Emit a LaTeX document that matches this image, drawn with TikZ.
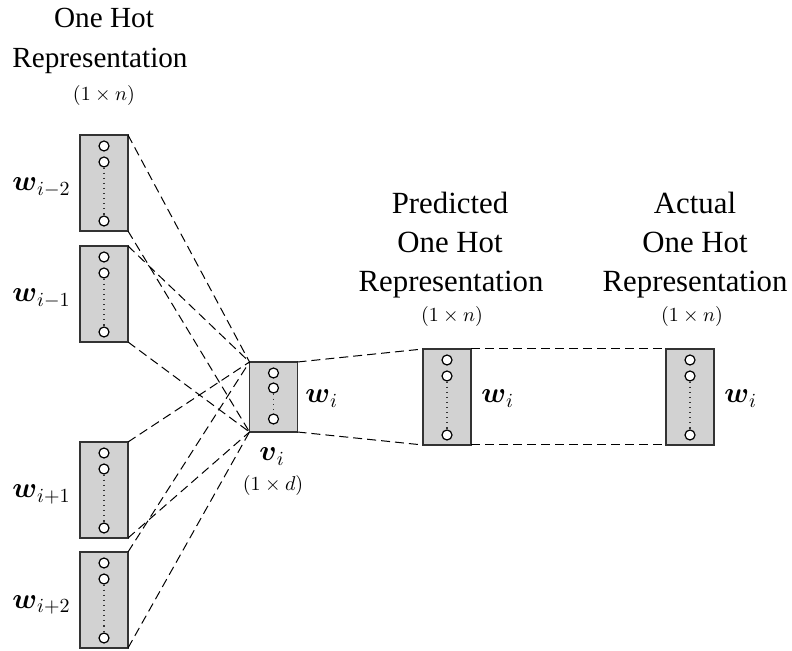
\documentclass[tikz,border=0pt]{standalone}
\usepackage{amsmath}
\usepackage[no-math]{fontspec}
\setmainfont{Liberation Serif}
\usetikzlibrary{calc}

\tikzset{
  vecbox/.style={draw=black!80, line width=0.7pt, fill=gray!35,
    minimum width=24pt, inner sep=0pt, outer sep=0pt},
  unit/.style={circle, draw=black, line width=0.6pt, fill=white,
    minimum size=5pt, inner sep=0pt},
  dots/.style={dotted, line width=0.55pt, black!80},
  conn/.style={line width=0.5pt, dash pattern=on 4.5pt off 2.5pt},
  title/.style={anchor=base, font=\fontsize{14.6}{17}\selectfont, inner sep=0pt},
  outtitle/.style={anchor=base, font=\fontsize{15.4}{18}\selectfont, inner sep=0pt},
  dim/.style={anchor=base, font=\normalsize, inner sep=0pt},
  lbl/.style={font=\Large, inner sep=0pt},
}

% \onehotvec{name}{x}{y}{height}{first}{second}{last}
% draws a vector box with three units and a dotted run between the last two
\newcommand{\onehotvec}[7]{%
  \node[vecbox, minimum height=#4*0.5pt] (#1) at (#2,#3) {};
  \node[unit] (#1-u1) at ($(#1.north)+(0,#5)$) {};
  \node[unit] (#1-u2) at ($(#1.north)+(0,#6)$) {};
  \node[unit] (#1-u3) at ($(#1.south)-(0,#7)$) {};
  \draw[dots] (#1-u2.south) -- (#1-u3.north);
}

\begin{document}
\begin{tikzpicture}[x=0.5pt, y=-0.5pt]
\useasboundingbox (0,0) rectangle (792,651);

% context word vectors
\onehotvec{c1}{104}{183}{96}{11}{27}{10}
\onehotvec{c2}{104}{294}{96}{11}{27}{10}
\onehotvec{c3}{104}{490}{96}{11}{27}{10}
\onehotvec{c4}{104}{600}{96}{11}{27}{10}

% hidden vector
\onehotvec{v}{273.5}{397}{70}{11}{26}{13}

% predicted and actual output vectors
\onehotvec{p}{447}{397}{96}{11}{27}{10}
\onehotvec{a}{690}{397}{96}{11}{27}{10}

% connections
\foreach \c in {c1,c2,c3,c4}{
  \draw[conn] (\c.north east) -- (v.north west);
  \draw[conn] (\c.south east) -- (v.south west);
}
\draw[conn] (v.north east) -- (p.north west);
\draw[conn] (v.south east) -- (p.south west);
\draw[conn] (p.north east) -- (a.north west);
\draw[conn] (p.south east) -- (a.south west);

% headings
\node[title] (h1a) at (104,28) {One Hot};
\node[title] (h1b) at (100,68) {Representation};
\node[dim]   (h1c) at (104,101) {$(1\times n)$};

\node[outtitle] (h2a) at (450,214) {Predicted};
\node[outtitle] (h2b) at (450,253) {One Hot};
\node[outtitle] (h2c) at (451,292) {Representation};
\node[dim]   (h2d) at (452,322) {$(1\times n)$};

\node[outtitle] (h3a) at (695,214) {Actual};
\node[outtitle] (h3b) at (695,253) {One Hot};
\node[outtitle] (h3c) at (695,292) {Representation};
\node[dim]   (h3d) at (692,322) {$(1\times n)$};

% word labels
\node[lbl, anchor=base east] (l1) at (71,191) {$\boldsymbol{w}_{i-2}$};
\node[lbl, anchor=base east] (l2) at (71,302) {$\boldsymbol{w}_{i-1}$};
\node[lbl, anchor=base east] (l3) at (71,498) {$\boldsymbol{w}_{i+1}$};
\node[lbl, anchor=base east] (l4) at (71,608) {$\boldsymbol{w}_{i+2}$};

\node[lbl, anchor=base west] (lv) at (305,403) {$\boldsymbol{w}_i$};
\node[lbl, anchor=base west] (lp) at (481,403) {$\boldsymbol{w}_i$};
\node[lbl, anchor=base west] (la) at (724,403) {$\boldsymbol{w}_i$};

\node[lbl, anchor=base] (vi) at (272,461) {$\boldsymbol{v}_i$};
\node[dim] (vd) at (273,491) {$(1\times d)$};
\end{tikzpicture}
\end{document}
